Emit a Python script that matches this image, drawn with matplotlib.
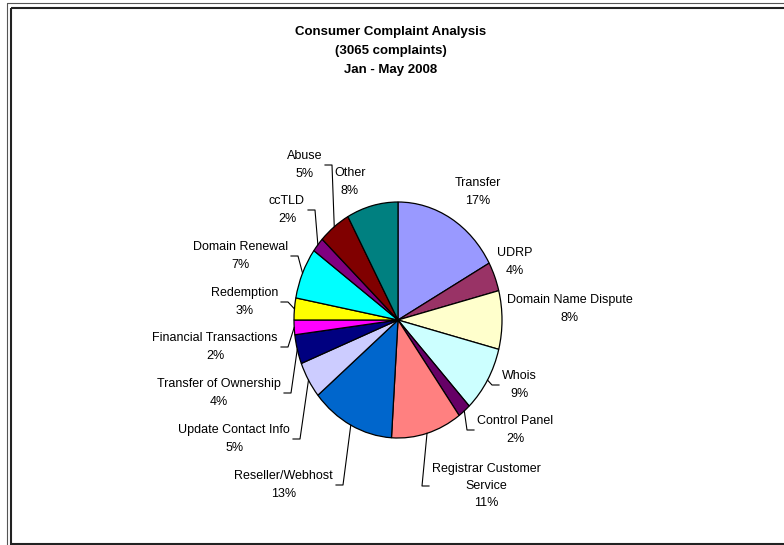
import matplotlib
matplotlib.use("Agg")
import matplotlib.pyplot as plt
from matplotlib.patches import Rectangle
import numpy as np

# complaint categories, clockwise from 12 o'clock
categories = ["Transfer", "UDRP", "Domain Name Dispute", "Whois", "Control Panel",
              "Registrar Customer\nService", "Reseller/Webhost", "Update Contact Info",
              "Transfer of Ownership", "Financial Transactions", "Redemption",
              "Domain Renewal", "ccTLD", "Abuse", "Other"]
shares = [17, 4, 8, 9, 2, 11, 13, 5, 4, 2, 3, 7, 2, 5, 8]
title_lines = ["Consumer Complaint Analysis", "(3065 complaints)", "Jan - May 2008"]

colors = ["#9999FF", "#993366", "#FFFFCC", "#CCFFFF", "#660066",
          "#FF8080", "#0066CC", "#CCCCFF", "#000080", "#FF00FF",
          "#FFFF00", "#00FFFF", "#800080", "#800000", "#008080"]

# label anchors in pixels: x of text edge (or centre), y of block centre, side
label_pos = [
    (478, 192, "c"), (515, 262, "c"), (570, 309, "c"), (502, 385, "l"),
    (477, 430, "l"), (432, 486, "l"), (333, 485, "r"), (290, 439, "r"),
    (281, 393, "r"), (278, 347, "r"), (278, 302, "r"), (288, 256, "r"),
    (305, 210, "r"), (322, 165, "r"), (350, 182, "c"),
]

W, H = 784, 545
fig = plt.figure(figsize=(W / 100, H / 100), dpi=100)
fig.patch.set_facecolor("white")
plt.rcParams["font.family"] = ["Liberation Sans", "DejaVu Sans"]

# pie is slightly taller than wide, as in the spreadsheet chart
cx, cy, rx, ry = 398, 320, 104, 118
m = 1.05
pax = fig.add_axes([(cx - rx * m) / W, (H - cy - ry * m) / H,
                    2 * rx * m / W, 2 * ry * m / H])
wedges, _ = pax.pie(shares, colors=colors, startangle=90, counterclock=False,
                    wedgeprops=dict(edgecolor="black", linewidth=0.9))
pax.set_xlim(-m, m)
pax.set_ylim(-m, m)
pax.set_aspect("auto")
pax.set_zorder(1)

# overlay in pixel coordinates for frame, title, labels and leader lines
ov = fig.add_axes([0, 0, 1, 1])
ov.set_xlim(0, W)
ov.set_ylim(H, 0)
ov.axis("off")
ov.set_zorder(2)

ov.add_patch(Rectangle((7, 3), 900, 700, fill=False, edgecolor="#555555", lw=0.8))
ov.add_patch(Rectangle((11, 8), 900, 536, fill=False, edgecolor="#222222", lw=1.5))

for i, line in enumerate(title_lines):
    ov.text(391, 32 + i * 19, line, ha="center", va="center",
            fontsize=9.5, fontweight="bold")

inv = ov.transData.inverted()
for wdg, name, val, (lx, ly, side) in zip(wedges, categories, shares, label_pos):
    text = f"{name}\n{val}%"
    ha = {"c": "center", "l": "left", "r": "right"}[side]
    ov.text(lx, ly, text, ha=ha, va="center", multialignment="center",
            fontsize=9, linespacing=1.6)
    if side == "c":
        continue
    mid = np.deg2rad((wdg.theta1 + wdg.theta2) / 2)
    ex, ey = inv.transform(pax.transData.transform((np.cos(mid), np.sin(mid))))
    sgn = -1 if side == "l" else 1
    xs = [ex, lx + sgn * 10, lx + sgn * 3]
    ys = [ey, ly, ly]
    ov.plot(xs, ys, color="black", lw=0.8)

fig.savefig("out.png", dpi=100)
